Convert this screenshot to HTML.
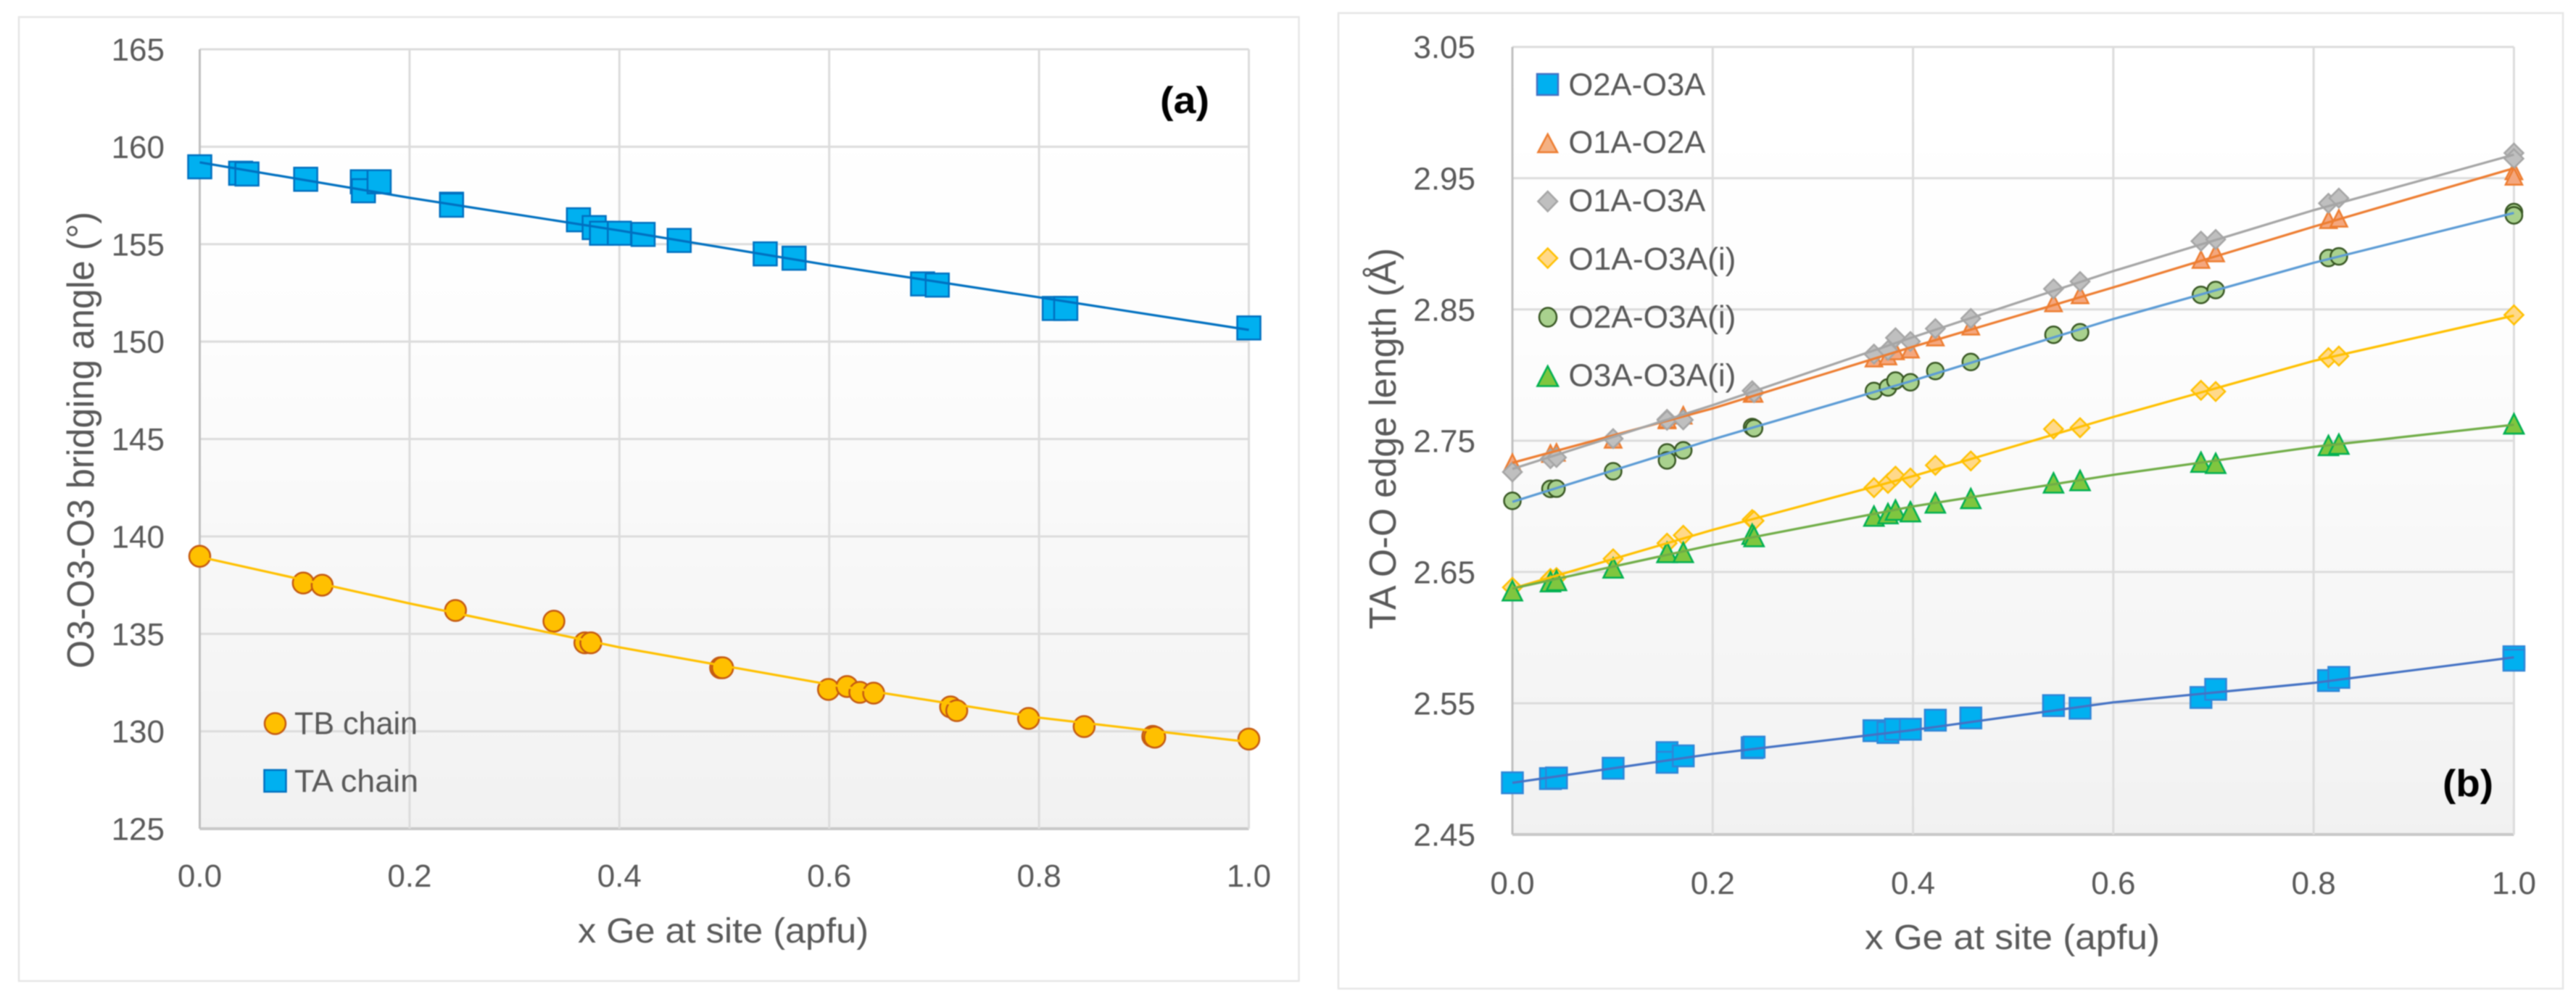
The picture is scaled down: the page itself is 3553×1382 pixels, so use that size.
<!DOCTYPE html>
<html lang="en">
<head>
<meta charset="utf-8">
<title>Ge substitution charts</title>
<style>
html,body{margin:0;padding:0;background:#fff;}
svg{display:block;font-family:"Liberation Sans",Arial,sans-serif;}
#art{filter:blur(0.8px);}
.tick{font-size:44px;fill:#595959;}
.leg{font-size:44px;fill:#595959;}
.title{fill:#595959;}
.tag{font-size:52px;font-weight:bold;fill:#000;}
</style>
</head>
<body>
<svg id="chart" xmlns="http://www.w3.org/2000/svg" width="3553" height="1382" viewBox="0 0 3553 1382">
<defs>
<linearGradient id="plotFill" x1="0" y1="0" x2="0" y2="1">
<stop offset="0" stop-color="#ffffff"/>
<stop offset="0.35" stop-color="#fdfdfd"/>
<stop offset="1" stop-color="#f1f1f1"/>
</linearGradient>
</defs>
<g id="art">
<rect width="3553" height="1382" fill="#ffffff"/>
<rect x="26" y="23.5" width="1765.5" height="1329.5" fill="#fff" stroke="#e6e6e6" stroke-width="2.5"/>
<rect x="1846" y="18" width="1689" height="1345.5" fill="#fff" stroke="#e6e6e6" stroke-width="2.5"/>
<rect x="275.5" y="68" width="1447" height="1075" fill="url(#plotFill)"/>
<rect x="2086" y="64.7" width="1381.4" height="1086.3" fill="url(#plotFill)"/>
<g id="gridA"></g>
<g id="gridB"></g>
<g id="ticksA"></g>
<g id="ticksB"></g>
<g id="marksA"></g>
<g id="marksB"></g>

<text class="title" transform="translate(129,922) rotate(-90)" font-size="52" textLength="630" lengthAdjust="spacingAndGlyphs">O3-O3-O3 bridging angle (°)</text>
<text class="title" x="797" y="1300" font-size="48" textLength="401" lengthAdjust="spacingAndGlyphs">x Ge at site (apfu)</text>
<text class="tag" x="1600" y="156" textLength="68" lengthAdjust="spacingAndGlyphs">(a)</text>

<g>
  <g>
    <circle cx="379.5" cy="998" r="14.5" fill="#FFC000" stroke="#C55A11" stroke-width="2.5"/>
    <text class="leg" x="406" y="1012.7" textLength="170" lengthAdjust="spacingAndGlyphs">TB chain</text>
  </g>
  <g>
    <rect x="364.5" y="1062" width="30" height="30" fill="#00B0F0" stroke="#0070C0" stroke-width="2.5"/>
    <text class="leg" x="406" y="1092" textLength="171" lengthAdjust="spacingAndGlyphs">TA chain</text>
  </g>
</g>

<text class="title" transform="translate(1925,868) rotate(-90)" font-size="52" textLength="526" lengthAdjust="spacingAndGlyphs">TA O-O edge length (Å)</text>
<text class="title" x="2572" y="1309" font-size="48" textLength="407" lengthAdjust="spacingAndGlyphs">x Ge at site (apfu)</text>
<text class="tag" x="3369" y="1098" textLength="70" lengthAdjust="spacingAndGlyphs">(b)</text>

<g>
  <g>
    <rect x="2120" y="102" width="29" height="29" fill="#00B0F0" stroke="#4472C4" stroke-width="2.5"/>
    <text class="leg" x="2163.4" y="131.7" textLength="189" lengthAdjust="spacingAndGlyphs">O2A-O3A</text>
  </g>
  <g>
    <polygon points="2134.7,185 2148,210 2121.4,210" fill="#F4B183" stroke="#ED7D31" stroke-width="2.5"/>
    <text class="leg" x="2163.4" y="211" textLength="189" lengthAdjust="spacingAndGlyphs">O1A-O2A</text>
  </g>
  <g>
    <polygon points="2134.7,264 2148,277.7 2134.7,291.4 2121.4,277.7" fill="#BFBFBF" stroke="#A5A5A5" stroke-width="2.5"/>
    <text class="leg" x="2163.4" y="291.5" textLength="189" lengthAdjust="spacingAndGlyphs">O1A-O3A</text>
  </g>
  <g>
    <polygon points="2134.7,342.5 2148,356 2134.7,369.5 2121.4,356" fill="#FFD98A" stroke="#FFC000" stroke-width="2.5"/>
    <text class="leg" x="2163.4" y="372" textLength="231" lengthAdjust="spacingAndGlyphs">O1A-O3A(i)</text>
  </g>
  <g>
    <ellipse cx="2135" cy="437.5" rx="12" ry="13" fill="#A9D18E" stroke="#385723" stroke-width="2.5"/>
    <text class="leg" x="2163.4" y="452" textLength="231" lengthAdjust="spacingAndGlyphs">O2A-O3A(i)</text>
  </g>
  <g>
    <polygon points="2134.7,505 2149,532.5 2120.4,532.5" fill="#7FC63F" stroke="#00B050" stroke-width="2.5"/>
    <text class="leg" x="2163.4" y="532.6" textLength="231" lengthAdjust="spacingAndGlyphs">O3A-O3A(i)</text>
  </g>
</g>
</g>
</svg>

<script>
// ---------- Panel (a) data ----------
const aXTickValues = [0, 0.2, 0.4, 0.6, 0.8, 1];
const aXTickLabels = ['0.0', '0.2', '0.4', '0.6', '0.8', '1.0'];
const aYTickValues = [125, 130, 135, 140, 145, 150, 155, 160, 165];
const aYTickLabels = ['125', '130', '135', '140', '145', '150', '155', '160', '165'];

const taX = [0, 0.039, 0.045, 0.101, 0.155, 0.156, 0.171, 0.24, 0.24, 0.361, 0.376, 0.383, 0.4, 0.4226, 0.457, 0.539, 0.5665, 0.689, 0.703, 0.8145, 0.8255, 1];
const taY = [158.97, 158.64, 158.6, 158.33, 158.2, 157.74, 158.2, 157.05, 157.0, 156.25, 155.85, 155.56, 155.56, 155.5, 155.19, 154.5, 154.28, 152.96, 152.9, 151.7, 151.7, 150.7];
const tbX = [0, 0.0987, 0.1167, 0.2438, 0.3376, 0.3671, 0.3728, 0.4965, 0.4984, 0.5993, 0.617, 0.6292, 0.6424, 0.7157, 0.7216, 0.79, 0.843, 0.9084, 0.9103, 1];
const tbY = [138.98, 137.61, 137.5, 136.2, 135.65, 134.54, 134.54, 133.26, 133.26, 132.15, 132.3, 132.0, 131.96, 131.25, 131.06, 130.66, 130.24, 129.74, 129.7, 129.6];

const aTrendX = [0, 0.2, 0.4, 0.6, 0.8, 1];
const taTrendY = [159.2, 157.38, 155.7, 153.92, 152.27, 150.6];
const tbTrendY = [138.95, 136.56, 134.31, 132.4, 130.7, 129.45];

// ---------- Panel (b) data ----------
const bXTickValues = [0, 0.2, 0.4, 0.6, 0.8, 1];
const bXTickLabels = ['0.0', '0.2', '0.4', '0.6', '0.8', '1.0'];
const bYTickValues = [2.45, 2.55, 2.65, 2.75, 2.85, 2.95, 3.05];
const bYTickLabels = ['2.45', '2.55', '2.65', '2.75', '2.85', '2.95', '3.05'];

const bX = [0, 0.038, 0.044, 0.1006, 0.1544, 0.1544, 0.1706, 0.2394, 0.2413, 0.361, 0.375, 0.3825, 0.3974, 0.4223, 0.4577, 0.5403, 0.5668, 0.6875, 0.7022, 0.8148, 0.8252, 1, 1];
const bO2AO3A = [2.4894, 2.4926, 2.4931, 2.5005, 2.5124, 2.505, 2.5099, 2.5161, 2.5166, 2.5291, 2.5277, 2.5302, 2.5302, 2.5371, 2.5388, 2.5482, 2.5462, 2.5544, 2.5606, 2.5673, 2.5697, 2.5854, 2.5828];
const bO1AO2A = [2.7333, 2.7402, 2.7411, 2.751, 2.7658, 2.7665, 2.7694, 2.786, 2.786, 2.8129, 2.8145, 2.8184, 2.8197, 2.8289, 2.8372, 2.8549, 2.8611, 2.888, 2.893, 2.9183, 2.9194, 2.9555, 2.9514];
const bO1AO3A = [2.7262, 2.7363, 2.7372, 2.7516, 2.7663, 2.7656, 2.7659, 2.7881, 2.7866, 2.816, 2.8188, 2.8284, 2.8256, 2.8354, 2.8431, 2.8657, 2.8713, 2.902, 2.9033, 2.9309, 2.9348, 2.9692, 2.9649];
const bO1AO3Ai = [2.6383, 2.645, 2.6457, 2.66, 2.6719, 2.6719, 2.678, 2.6899, 2.689, 2.7142, 2.7175, 2.723, 2.7216, 2.7313, 2.7346, 2.7589, 2.7599, 2.7884, 2.7875, 2.8133, 2.8145, 2.8458, 2.8458];
const bO2AO3Ai = [2.7042, 2.7133, 2.7135, 2.7267, 2.7411, 2.735, 2.7427, 2.7604, 2.7595, 2.7879, 2.7906, 2.7958, 2.7945, 2.8031, 2.81, 2.8307, 2.8326, 2.8611, 2.8648, 2.8892, 2.8904, 2.9242, 2.9217];
const bO3AO3Ai = [2.6357, 2.6426, 2.6435, 2.6531, 2.6649, 2.6649, 2.6649, 2.6788, 2.677, 2.6926, 2.6945, 2.6972, 2.6959, 2.7026, 2.706, 2.7179, 2.7197, 2.7337, 2.7328, 2.7464, 2.7474, 2.7629, 2.7629];

const bTrendX = [0, 0.2, 0.4, 0.6, 0.8, 1];
const trendO2AO3A = [2.4894, 2.5115, 2.5296, 2.5507, 2.5655, 2.585];
const trendO1AO2A = [2.7332, 2.7746, 2.8216, 2.8668, 2.9131, 2.9576];
const trendO1AO3A = [2.7285, 2.7771, 2.8289, 2.8792, 2.9256, 2.9679];
const trendO1AO3Ai = [2.6374, 2.6821, 2.723, 2.7681, 2.8108, 2.8453];
const trendO2AO3Ai = [2.7034, 2.751, 2.7958, 2.8427, 2.8855, 2.9235];
const trendO3AO3Ai = [2.6374, 2.6706, 2.7, 2.724, 2.7453, 2.7622];

// ---------- Axis functions ----------
const SVG_NS = 'http://www.w3.org/2000/svg';
function xA(v) { return 275.5 + v * 1447; }
function yA(v) { return 1143 - (v - 125) * 26.875; }
function xB(v) { return 2086 + v * 1381.4; }
function yB(v) { return 1151 - (v - 2.45) * 1810.5; }

function mk(tag, parent) {
  const el = document.createElementNS(SVG_NS, tag);
  parent.appendChild(el);
  return el;
}

// ---------- Grid and tick labels ----------
function drawGrid(group, xTicks, yTicks, xf, yf, prefix) {
  const x0 = xf(xTicks[0]), x1 = xf(xTicks[xTicks.length - 1]);
  const y0 = yf(yTicks[0]), y1 = yf(yTicks[yTicks.length - 1]);
  yTicks.forEach(function (v, i) {
    const el = mk('line', group);
    
    
    el.setAttribute('x1', x0);
    el.setAttribute('x2', x1);
    el.setAttribute('y1', yf(v));
    el.setAttribute('y2', yf(v));
    el.setAttribute('stroke', i === 0 ? '#c8c8c8' : '#dcdcdc');
    el.setAttribute('stroke-width', i === 0 ? 4 : 3);
  });
  xTicks.forEach(function (v, i) {
    const el = mk('line', group);
    
    
    el.setAttribute('x1', xf(v));
    el.setAttribute('x2', xf(v));
    el.setAttribute('y1', y1);
    el.setAttribute('y2', y0);
    el.setAttribute('stroke', i === 0 ? '#bfbfbf' : '#dcdcdc');
    el.setAttribute('stroke-width', 3);
  });
}

function drawTicks(group, xTicks, xLabels, yTicks, yLabels, xf, yf, rightEdge, xBase, prefix) {
  xTicks.forEach(function (v, i) {
    const el = mk('text', group);
    
    
    el.setAttribute('class', 'tick');
    el.setAttribute('text-anchor', 'middle');
    el.setAttribute('x', xf(v));
    el.setAttribute('y', xBase);
    el.textContent = xLabels[i];
  });
  yTicks.forEach(function (v, i) {
    const el = mk('text', group);
    
    
    el.setAttribute('class', 'tick');
    el.setAttribute('text-anchor', 'end');
    el.setAttribute('x', rightEdge);
    el.setAttribute('y', yf(v) + 15.5);
    el.textContent = yLabels[i];
  });
}

// ---------- Marker shapes ----------
function marker(kind, parent, cx, cy, size, fill, stroke) {
  const h = size / 2;
  let el;
  if (kind === 'square') {
    el = mk('rect', parent);
    el.setAttribute('x', cx - h);
    el.setAttribute('y', cy - h);
    el.setAttribute('width', size);
    el.setAttribute('height', size);
  } else if (kind === 'circle') {
    el = mk('circle', parent);
    el.setAttribute('cx', cx);
    el.setAttribute('cy', cy);
    el.setAttribute('r', h);
  } else if (kind === 'triangle') {
    el = mk('polygon', parent);
    el.setAttribute('points', cx + ',' + (cy - h) + ' ' + (cx + h) + ',' + (cy + h) + ' ' + (cx - h) + ',' + (cy + h));
  } else {
    el = mk('polygon', parent);
    el.setAttribute('points', cx + ',' + (cy - h) + ' ' + (cx + h) + ',' + cy + ' ' + cx + ',' + (cy + h) + ' ' + (cx - h) + ',' + cy);
  }
  el.setAttribute('fill', fill);
  el.setAttribute('stroke', stroke);
  el.setAttribute('stroke-width', 2.5);
  return el;
}

function drawPoints(group, s, xf, yf) {
  s.x.forEach(function (xv, i) {
    const el = marker(s.kind, group, xf(xv), yf(s.y[i]), s.size, s.fill, s.stroke);
    
    
  });
}

function drawTrend(group, s, xf, yf) {
  const pts = s.tx.map(function (xv, i) { return xf(xv).toFixed(1) + ',' + yf(s.ty[i]).toFixed(1); }).join(' ');
  const el = mk('polyline', group);
  
  
  el.setAttribute('points', pts);
  el.setAttribute('fill', 'none');
  el.setAttribute('stroke', s.line);
  el.setAttribute('stroke-width', 3.2);
  el.setAttribute('stroke-linejoin', 'round');
}

// ---------- Render ----------
drawGrid(document.getElementById('gridA'), aXTickValues, aYTickValues, xA, yA, 'panel-a');
drawGrid(document.getElementById('gridB'), bXTickValues, bYTickValues, xB, yB, 'panel-b');
drawTicks(document.getElementById('ticksA'), aXTickValues, aXTickLabels, aYTickValues, aYTickLabels, xA, yA, 227, 1223, 'panel-a');
drawTicks(document.getElementById('ticksB'), bXTickValues, bXTickLabels, bYTickValues, bYTickLabels, xB, yB, 2035, 1233, 'panel-b');

const seriesA = [
  { name: 'tb-chain', kind: 'circle', size: 29, fill: '#FFC000', stroke: '#C55A11', line: '#FFC000', x: tbX, y: tbY, tx: aTrendX, ty: tbTrendY },
  { name: 'ta-chain', kind: 'square', size: 32, fill: '#00B0F0', stroke: '#0070C0', line: '#0070C0', x: taX, y: taY, tx: aTrendX, ty: taTrendY }
];
const seriesB = [
  { name: 'o2a-o3a', kind: 'square', size: 29, fill: '#00B0F0', stroke: '#2E86D8', line: '#4472C4', x: bX, y: bO2AO3A, tx: bTrendX, ty: trendO2AO3A },
  { name: 'o1a-o2a', kind: 'triangle', size: 23, fill: '#F4A77E', stroke: '#ED7D31', line: '#ED7D31', x: bX, y: bO1AO2A, tx: bTrendX, ty: trendO1AO2A },
  { name: 'o1a-o3a', kind: 'diamond', size: 26, fill: '#BFBFBF', stroke: '#A5A5A5', line: '#A5A5A5', x: bX, y: bO1AO3A, tx: bTrendX, ty: trendO1AO3A },
  { name: 'o1a-o3a-i', kind: 'diamond', size: 26, fill: '#FFD98A', stroke: '#FFC000', line: '#FFC000', x: bX, y: bO1AO3Ai, tx: bTrendX, ty: trendO1AO3Ai },
  { name: 'o2a-o3a-i', kind: 'circle', size: 23, fill: '#A9D18E', stroke: '#385723', line: '#5B9BD5', x: bX, y: bO2AO3Ai, tx: bTrendX, ty: trendO2AO3Ai },
  { name: 'o3a-o3a-i', kind: 'triangle', size: 27, fill: '#7FC63F', stroke: '#00B050', line: '#70AD47', x: bX, y: bO3AO3Ai, tx: bTrendX, ty: trendO3AO3Ai }
];

const marksA = document.getElementById('marksA');
const marksB = document.getElementById('marksB');
seriesA.forEach(function (s) { drawPoints(marksA, s, xA, yA); });
seriesA.forEach(function (s) { drawTrend(marksA, s, xA, yA); });
seriesB.forEach(function (s) { drawPoints(marksB, s, xB, yB); });
seriesB.forEach(function (s) { drawTrend(marksB, s, xB, yB); });
</script>
</body>
</html>
